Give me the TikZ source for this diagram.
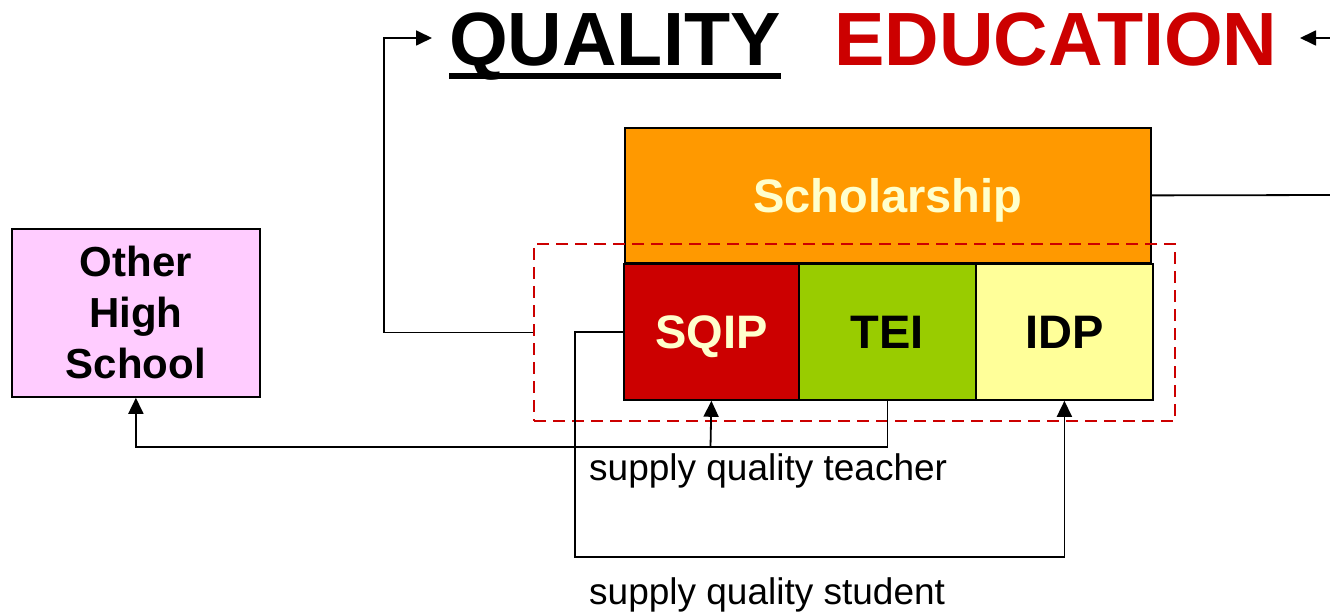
\documentclass[tikz,border=0pt]{standalone}
\usepackage{fontspec}
\setmainfont{Liberation Sans}
\usepackage{xcolor}
\usetikzlibrary{positioning,arrows.meta}

\definecolor{schorange}{HTML}{FF9900}
\definecolor{sqipred}{HTML}{CC0000}
\definecolor{teigreen}{HTML}{99CC00}
\definecolor{idpyellow}{HTML}{FFFF99}
\definecolor{otherpink}{HTML}{FFCCFF}
\definecolor{paletext}{HTML}{FFFFCC}

\begin{document}
\begin{tikzpicture}[x=1pt, y=-1pt,
    block/.style={rectangle, draw, line width=1.8pt, inner sep=0pt, anchor=north west,
        font=\bfseries\fontsize{47}{56}\selectfont},
    prog/.style={block, text height=34pt, text depth=0pt},
    title/.style={inner sep=0pt, anchor=base west, font=\bfseries\fontsize{75.5}{80}\selectfont},
    label/.style={inner sep=0pt, anchor=base west, font=\fontsize{37}{40}\selectfont},
    group/.style={rectangle, draw=sqipred, line width=2pt, dash pattern=on 12pt off 7pt,
        inner sep=0pt, anchor=north west},
    arrow/.style={-{Triangle[length=16pt,width=15pt]}, line width=1.8pt}]

    \useasboundingbox (0,0) rectangle (1330,612);

    % title
    \node[title] (quality) at (449,66) {QUALITY};
    \node[title, text=sqipred] (education) at (834,66) {EDUCATION};
    \draw[line width=6pt] ([yshift=-10pt]quality.base west) -- ([yshift=-10pt]quality.base east);

    % programme blocks
    \node[prog, fill=schorange, text=paletext, minimum width=526pt, minimum height=135pt] (scholar) at (624,127) {Scholarship};
    \node[prog, fill=sqipred, text=paletext, minimum width=175pt, minimum height=136pt] (sqip) at (623,263) {SQIP};
    \node[prog, fill=teigreen, minimum width=177pt, minimum height=136pt] (tei) at (798,263) {TEI};
    \node[prog, fill=idpyellow, minimum width=177pt, minimum height=136pt] (idp) at (975,263) {IDP};

    \node[block, fill=otherpink, minimum width=248pt, minimum height=168pt, align=center,
        font=\bfseries\fontsize{42}{51}\selectfont] (other) at (11,228) {Other\\High\\School};

    \node[group, minimum width=641pt, minimum height=177pt] (programmes) at (533,243) {};

    % connectors
    \coordinate (leftup) at (384,38);
    \coordinate (qualityin) at (432,38);
    \coordinate (rightup) at (1336,195);
    \coordinate (educationin) at (1300,38);
    \coordinate (teachjoin) at (710.5,447);
    \coordinate (studentcorner) at (575,557);

    \draw[arrow] (programmes.west) -| (leftup) -- (qualityin);
    \draw[arrow] (scholar.east) -- (rightup) |- (educationin);
    \draw[arrow] (tei.south) |- (teachjoin) -| (other.south);
    \draw[arrow] (teachjoin) -- (sqip.south);
    \draw[arrow] (sqip.west) -| (studentcorner) -| (idp.south);

    \node[label] (teacher) at (589,480) {supply quality teacher};
    \node[label] (student) at (589,604) {supply quality student};
\end{tikzpicture}
\end{document}
